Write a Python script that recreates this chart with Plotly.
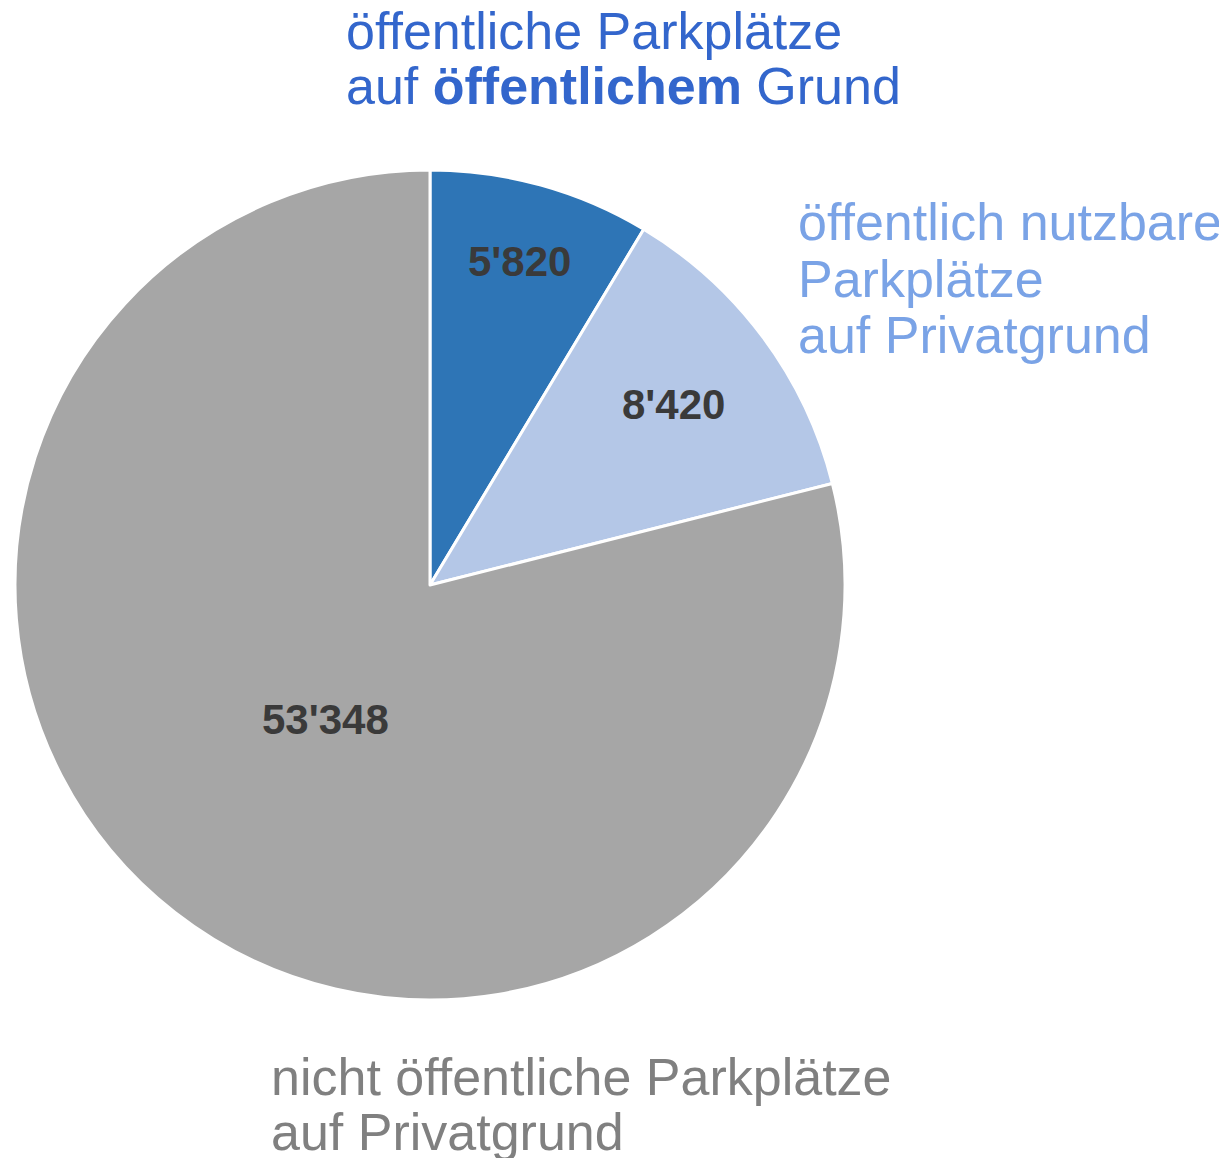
import math
import plotly.graph_objects as go

categories = ["öffentliche Parkplätze auf öffentlichem Grund",
              "öffentlich nutzbare Parkplätze auf Privatgrund",
              "nicht öffentliche Parkplätze auf Privatgrund"]
values = [5820, 8420, 53348]
value_labels = ["5'820", "8'420", "53'348"]
colors = ["#2E75B6", "#B4C7E7", "#A6A6A6"]

# page body has an 8px margin, so the figure is drawn 8px smaller/shifted
OFF = 8
W, H = 1227 - OFF, 1158 - OFF

CX, CY, R = 430 - OFF, 585 - OFF, 415

def px_x(x):
    return x / W

def px_y(y):
    return 1 - y / H

fig = go.Figure(go.Pie(
    labels=categories,
    values=values,
    textinfo="none",
    sort=False,
    direction="clockwise",
    rotation=0,
    marker=dict(colors=colors, line=dict(color="white", width=3)),
    hoverinfo="label+value",
    showlegend=False,
    domain=dict(x=[px_x(CX - R), px_x(CX + R)], y=[px_y(CY + R), px_y(CY - R)]),
))

ann = []
# value labels placed along each slice's bisector
radial_frac = [0.81, 0.73, 0.41]
total = sum(values)
cum = 0
for v, lab, rf in zip(values, value_labels, radial_frac):
    theta = 2 * math.pi * (cum + v / 2) / total
    cum += v
    x = CX + rf * R * math.sin(theta)
    y = CY - rf * R * math.cos(theta)
    ann.append(dict(text=lab, x=px_x(x), y=px_y(y), xref="paper", yref="paper",
                    xanchor="center", yanchor="middle", showarrow=False,
                    font=dict(family="Liberation Sans, Arial", size=42, color="#3a3a3a", weight="bold")))

font_base = "Liberation Sans, Arial"
lines = [
    ("öffentliche Parkplätze", 345, 31, "#3366CC"),
    ("auf <b>öffentlichem</b> Grund", 345, 86, "#3366CC"),
    ("öffentlich nutzbare", 797, 222, "#7AA3E6"),
    ("Parkplätze", 797, 279, "#7AA3E6"),
    ("auf Privatgrund", 797, 335, "#7AA3E6"),
    ("nicht öffentliche Parkplätze", 270, 1077, "#808080"),
    ("auf Privatgrund", 270, 1132, "#808080"),
]
for txt, x, y, c in lines:
    ann.append(dict(text=txt, x=px_x(x - OFF), y=px_y(y - OFF), xref="paper", yref="paper",
                    xanchor="left", yanchor="middle", showarrow=False,
                    font=dict(family=font_base, size=52, color=c), borderpad=0))

fig.update_layout(
    width=W, height=H,
    margin=dict(l=0, r=0, t=0, b=0),
    paper_bgcolor="white",
    plot_bgcolor="white",
    annotations=ann,
)

fig.write_html("out.html")
